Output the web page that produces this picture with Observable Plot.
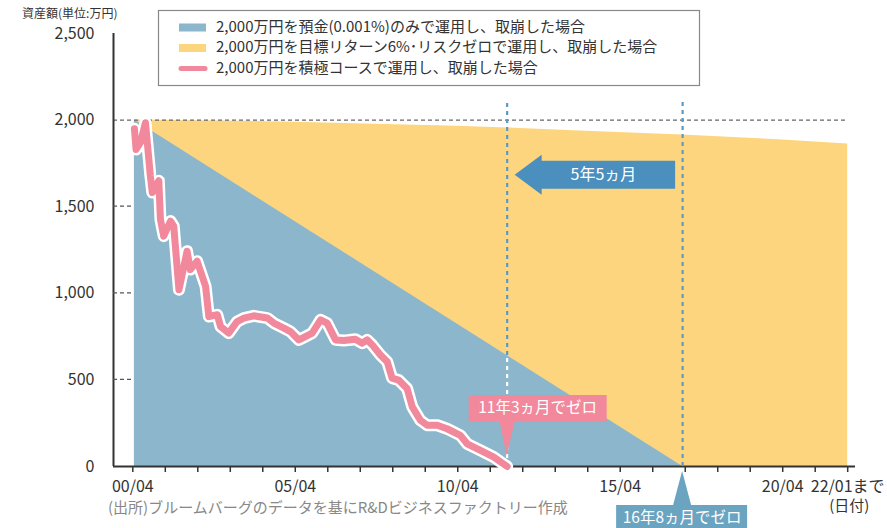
<!DOCTYPE html>
<html><head><meta charset="utf-8">
<script src="https://cdn.jsdelivr.net/npm/d3@7"></script>
<script src="https://cdn.jsdelivr.net/npm/@observablehq/plot@0.6"></script>
<style>body{margin:0;background:#fff;} svg{display:block}</style>
</head><body><div id="chart"></div>
<script>
const FONT = "'Noto Sans CJK JP','Noto Sans',sans-serif";

// ---- data (x in decimal years; 2000.25 = 2000/04) ----
const pinkYears = [2000.30, 2000.35, 2000.49, 2000.64, 2000.79, 2000.85, 2001.05, 2001.10, 2001.20, 2001.41,
  2001.51, 2001.67, 2001.92, 2002.02, 2002.23, 2002.49, 2002.59, 2002.85, 2002.95, 2003.20,
  2003.46, 2003.67, 2003.97, 2004.39, 2004.59, 2004.90, 2005.10, 2005.36, 2005.56, 2005.77,
  2006.03, 2006.23, 2006.49, 2006.74, 2007.10, 2007.31, 2007.46, 2007.62, 2007.87, 2008.08,
  2008.23, 2008.43, 2008.69, 2008.85, 2009.10, 2009.31, 2009.62, 2009.92, 2010.33, 2010.54,
  2010.95, 2011.36, 2011.77];
const pinkValues = [1950, 1830, 1873, 1985, 1678, 1582, 1650, 1427, 1330, 1417,
  1388, 1021, 1243, 1137, 1185, 1040, 866, 876, 808, 770,
  837, 857, 870, 857, 828, 799, 779, 731, 750, 770,
  847, 828, 731, 727, 735, 712, 731, 702, 644, 605,
  510, 499, 451, 344, 267, 238, 238, 218, 180, 131,
  93, 54, 0];

const yellowYears = [2000.30, 2003.0, 2005.25, 2008.0, 2010.25, 2011.77, 2014.0, 2017.17, 2020.0, 2022.25];
const yellowValues = [2000, 1995, 1988, 1975, 1965, 1955, 1937, 1914, 1888, 1862];

const blueYears = [2000.30, 2017.17];
const blueValues = [2000, 0];

const pinkZero = 2011.77;   // 11年3ヵ月でゼロ
const blueZero = 2017.17;   // 16年8ヵ月でゼロ
const eventTop = 2105;
const arrowLevel = 1682;

const yTicks = [0, 500, 1000, 1500, 2000, 2500];
const yMinorTicks = [500, 1000, 1500];
const xTicks = d3.range(0, 23).map(i => 2000.25 + i);
const xLabelYears = [2000.25, 2005.25, 2010.25, 2015.25, 2020.25, 2022.25];
const xTickLabels = ["00/04", "05/04", "10/04", "15/04", "20/04", "22/01まで"];
const xAxisUnit = "(日付)";

const legendLabels = [
  "2,000万円を預金(0.001%)のみで運用し、取崩した場合",
  "2,000万円を目標リターン6%･リスクゼロで運用し、取崩した場合",
  "2,000万円を積極コースで運用し、取崩した場合"
];
const colors = {blue: "#8bb6cb", yellow: "#fdd57f", pink: "#f1889c", arrow: "#4a8fbe", box: "#6aa4c1", dash: "#5a9bc4"};

const pink = pinkYears.map((x, i) => ({x, v: pinkValues[i]}));
const yellow = yellowYears.map((x, i) => ({x, v: yellowValues[i]}));
const blue = blueYears.map((x, i) => ({x, v: blueValues[i]}));
const blueAt = t => d3.scaleLinear().domain(blueYears).range(blueValues).clamp(true)(t);

const xMin = 1999.656, xMax = 2022.49;

const chart = Plot.plot({
  width: 887, height: 528,
  marginLeft: 113, marginRight: 32, marginTop: 33, marginBottom: 62,
  style: {fontFamily: FONT, fontSize: "16px", color: "#333", background: "#fff"},
  x: {domain: [xMin, xMax], ticks: xTicks, tickSize: 6, tickPadding: 8, label: null,
      tickFormat: d => { const i = xLabelYears.findIndex(y => Math.abs(y - d) < 1e-6); return i >= 0 ? xTickLabels[i] : ""; }},
  y: {domain: [0, 2500], ticks: yTicks, tickSize: 0, tickPadding: 19, tickFormat: d3.format(","), label: null},
  marks: [
    Plot.areaY(yellow, {x: "x", y: "v", fill: colors.yellow}),
    Plot.areaY(blue, {x: "x", y: "v", fill: colors.blue}),
    Plot.ruleY([2000], {x1: xMin, x2: yellowYears[yellowYears.length - 1], stroke: "#666", strokeWidth: 1.3, strokeDasharray: "4,3"}),
    Plot.ruleY([0], {stroke: "#333", strokeWidth: 2}),
    Plot.ruleX([xMin], {stroke: "#333", strokeWidth: 2}),
    Plot.ruleX([pinkZero], {y1: 0, y2: blueAt(pinkZero), stroke: "#fff", strokeWidth: 2.2, strokeDasharray: "4,4"}),
    Plot.ruleX([pinkZero], {y1: blueAt(pinkZero), y2: eventTop, stroke: colors.dash, strokeWidth: 2.2, strokeDasharray: "4,4"}),
    Plot.ruleX([blueZero], {y1: 0, y2: eventTop, stroke: colors.dash, strokeWidth: 2.2, strokeDasharray: "4,4"}),
    Plot.line(pink, {x: "x", y: "v", stroke: "#fff", strokeWidth: 12, strokeLinejoin: "round", strokeLinecap: "round"}),
    Plot.line(pink, {x: "x", y: "v", stroke: colors.pink, strokeWidth: 7, strokeLinejoin: "round", strokeLinecap: "round"})
  ]
});
document.getElementById("chart").appendChild(chart);

const X = v => chart.scale("x").apply(v);
const Y = v => chart.scale("y").apply(v);
const svg = d3.select(chart);
svg.selectAll("[aria-label='x-axis'] path, [aria-label='x-axis tick'] path").attr("stroke-width", 1.5);
const ann = svg.append("g").style("font-family", FONT).attr("text-anchor", "start");

// x-axis unit under last tick label
ann.append("text").attr("x", X(xLabelYears[xLabelYears.length - 1]) + 2).attr("y", 507).attr("text-anchor", "middle")
  .attr("dominant-baseline", "middle").attr("font-size", 15).attr("fill", "#333").text(xAxisUnit);

// minor dashed y ticks
yMinorTicks.forEach(v => ann.append("line").attr("x1", X(xMin)).attr("x2", X(xMin) + 21)
  .attr("y1", Y(v)).attr("y2", Y(v)).attr("stroke", "#555").attr("stroke-width", 1.3).attr("stroke-dasharray", "4,3"));

// title
ann.append("text").attr("x", 22).attr("y", 15).attr("text-anchor", "start").attr("dominant-baseline", "middle")
  .attr("font-size", 12).attr("fill", "#333").text("資産額(単位:万円)");

// legend
ann.append("rect").attr("x", 158.5).attr("y", 10.5).attr("width", 541).attr("height", 75)
  .attr("fill", "#fff").attr("stroke", "#888").attr("stroke-width", 1.2);
const rowsY = [27.5, 48, 68.5];
ann.append("rect").attr("x", 179).attr("y", rowsY[0] - 4).attr("width", 27).attr("height", 8).attr("fill", colors.blue);
ann.append("rect").attr("x", 179).attr("y", rowsY[1] - 4).attr("width", 27).attr("height", 8).attr("fill", colors.yellow);
ann.append("line").attr("x1", 181).attr("x2", 205).attr("y1", rowsY[2]).attr("y2", rowsY[2])
  .attr("stroke", colors.pink).attr("stroke-width", 5).attr("stroke-linecap", "round");
legendLabels.forEach((t, i) => ann.append("text").attr("x", 216).attr("y", rowsY[i]).attr("text-anchor", "start")
  .attr("dominant-baseline", "middle").attr("font-size", 15).attr("fill", "#333").text(t));

// caption
ann.append("text").attr("x", 108).attr("y", 509).attr("text-anchor", "start").attr("dominant-baseline", "middle")
  .attr("font-size", 15).attr("fill", "#888").text("(出所)ブルームバーグのデータを基にR&Dビジネスファクトリー作成");

// arrow 5年5ヵ月
const ax1 = X(pinkZero) + 8, ax2 = X(blueZero) - 7, ay = Y(arrowLevel), hb = ax1 + 27;
ann.append("path").attr("fill", colors.arrow)
  .attr("d", `M${ax1},${ay} L${hb},${ay - 20} L${hb},${ay - 14} L${ax2},${ay - 14} L${ax2},${ay + 14} L${hb},${ay + 14} L${hb},${ay + 20} Z`);
ann.append("text").attr("x", (hb + ax2) / 2 - 5).attr("y", ay + 1).attr("text-anchor", "middle").attr("dominant-baseline", "middle")
  .attr("font-size", 16).attr("fill", "#fff").text("5年5ヵ月");

// pink label
const px = X(pinkZero), tipY = Y(0) - 11;
ann.append("path").attr("fill", colors.pink)
  .attr("d", `M${px - 38},395 L${px + 100},395 L${px + 100},422 L${px + 8},422 L${px},${tipY} L${px - 7},422 L${px - 38},422 Z`);
ann.append("text").attr("x", px + 31).attr("y", 409).attr("text-anchor", "middle").attr("dominant-baseline", "middle")
  .attr("font-size", 15.5).attr("fill", "#fff").text("11年3ヵ月でゼロ");

// blue label
const bx = X(blueZero), btop = Y(0) + 5;
ann.append("path").attr("fill", colors.box)
  .attr("d", `M${bx},${btop} L${bx + 9},505 L${bx + 65},505 L${bx + 65},540 L${bx - 66},540 L${bx - 66},505 L${bx - 9},505 Z`);
ann.append("text").attr("x", bx).attr("y", 519).attr("text-anchor", "middle").attr("dominant-baseline", "middle")
  .attr("font-size", 15.5).attr("fill", "#fff").text("16年8ヵ月でゼロ");
</script>
</body></html>
